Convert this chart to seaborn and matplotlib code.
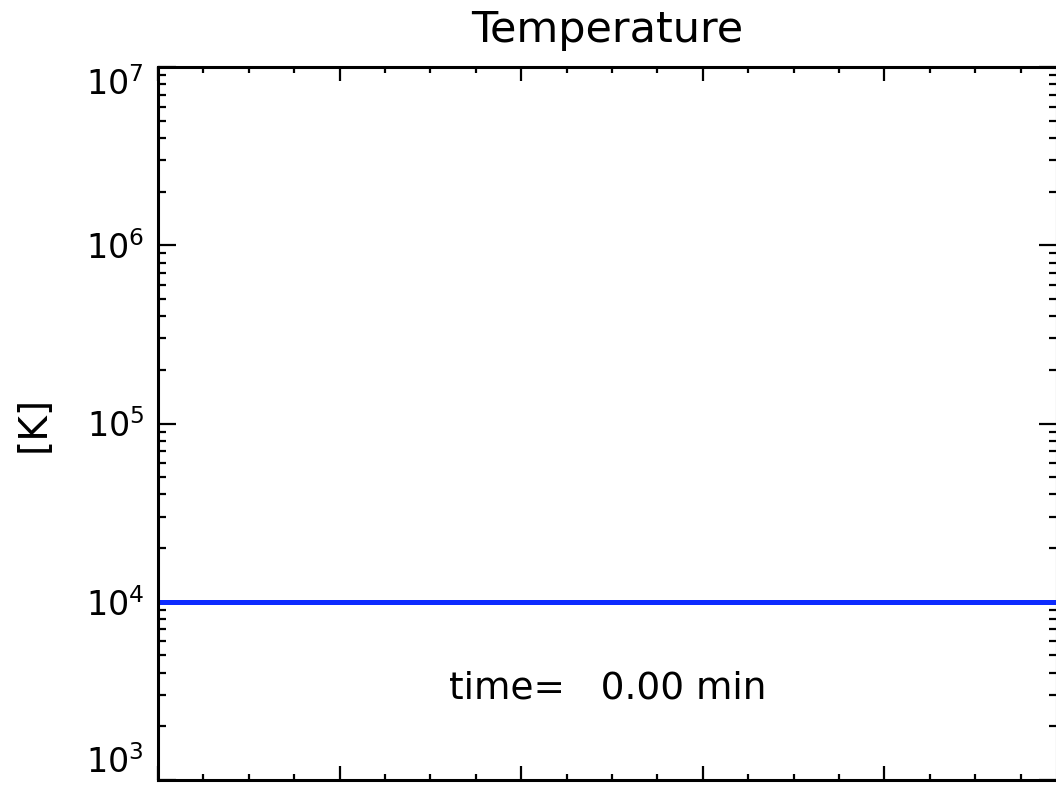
import matplotlib
matplotlib.use("Agg")
import matplotlib.pyplot as plt
import matplotlib.ticker as mticker
import seaborn as sns
import pandas as pd

# data
position = [0, 99]
temperature = [1e4, 1e4]
y_decades = [1e3, 1e4, 1e5, 1e6, 1e7]
title = "Temperature"
y_label = "[K]"
time_text = "time=   0.00 min"

sns.set_theme(style="ticks")
plt.rcParams['font.family'] = ['DejaVu Sans']
plt.rcParams.update({"text.color": "black", "axes.labelcolor": "black",
                     "xtick.color": "black", "ytick.color": "black",
                     "axes.edgecolor": "black"})

df = pd.DataFrame({"x": position, "T": temperature})

fig = plt.figure(figsize=(10.56, 7.86), dpi=100)
ax = fig.add_axes([158/1056, 1 - 780/786, (1057-158)/1056, 713/786])

sns.lineplot(data=df, x="x", y="T", ax=ax, color="#0d2bff", linewidth=3.6)

ax.set_yscale("log")
ax.set_ylim(y_decades[0], y_decades[-1])
ax.set_xlim(0, 99)

ax.xaxis.set_major_locator(mticker.MultipleLocator(20))
ax.xaxis.set_minor_locator(mticker.MultipleLocator(5))
ax.yaxis.set_major_locator(mticker.FixedLocator(y_decades))
ax.yaxis.set_major_formatter(mticker.LogFormatterSciNotation())
ax.yaxis.set_minor_locator(mticker.LogLocator(base=10, subs=range(2, 10), numticks=20))
ax.yaxis.set_minor_formatter(mticker.NullFormatter())

for s in ax.spines.values():
    s.set_linewidth(2.2)
    s.set_color("black")
    s.set_visible(True)

ax.tick_params(axis="both", which="both", direction="in", top=True, right=True,
               width=1.6, color="black")
ax.tick_params(axis="x", which="major", length=10)
ax.tick_params(axis="x", which="minor", length=4.5)
ax.tick_params(axis="y", which="major", length=13)
ax.tick_params(axis="y", which="minor", length=6)
ax.tick_params(axis="x", labelbottom=False)
ax.tick_params(axis="y", labelsize=24, pad=10, labelcolor="black")

ax.set_xlabel("")
ax.set_ylabel(y_label, fontsize=28, labelpad=24, color="black")
ax.set_title(title, fontsize=31, pad=18, color="black")

ax.text(0.5, 0.129, time_text, transform=ax.transAxes, ha="center", va="center",
        fontsize=27, color="black")

fig.canvas.draw()
ticks = ax.yaxis.get_major_ticks()
ticks[0].label1.set_va("bottom")
ticks[-1].label1.set_va("top")

fig.savefig("out.png", dpi=100)
